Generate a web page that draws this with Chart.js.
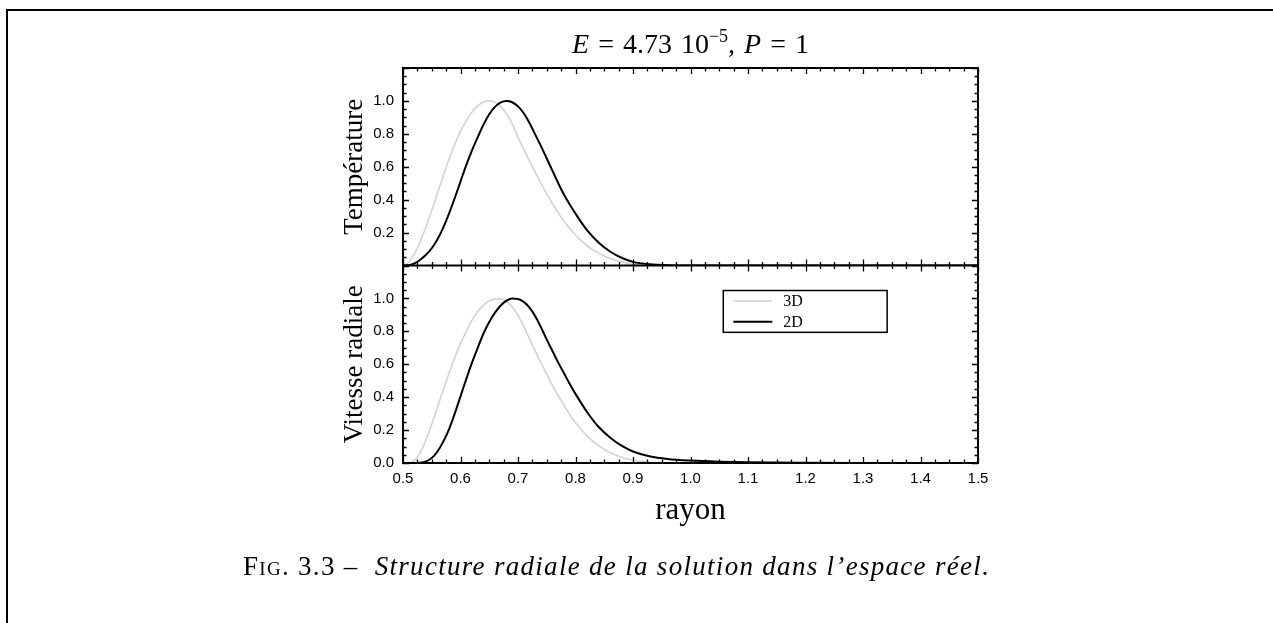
<!DOCTYPE html>
<html>
<head>
<meta charset="utf-8">
<script src="https://cdn.jsdelivr.net/npm/chart.js@4.4.1/dist/chart.umd.min.js"></script>
<style>
  html, body { margin: 0; padding: 0; background: #fff; }
  #page { position: relative; width: 1273px; height: 623px; overflow: hidden; }
  #frame { position: absolute; left: 6px; top: 9px; right: -10px; bottom: -10px;
           border-top: 2px solid #000; border-left: 2px solid #000; }
  #chart { position: absolute; left: 0; top: 0; }
  #title { position: absolute; left: 403px; width: 575px; top: 29px; text-align: center;
           font-family: "Liberation Serif", serif; font-size: 28px; line-height: 30px; word-spacing: 2px; }
  #title sup { font-size: 18px; line-height: 0; vertical-align: 11px; }
  #caption { position: absolute; left: 243px; top: 551px; white-space: nowrap; letter-spacing: 1.3px;
             font-family: "Liberation Serif", serif; font-size: 27px; line-height: 30px; }
  .sc { font-variant: small-caps; }
</style>
</head>
<body>
<div id="page">
  <div id="frame"></div>
  <canvas id="chart" width="1273" height="623"></canvas>
  <div id="title"><i>E</i> = 4.73 10<sup>−5</sup>, <i>P</i> = 1</div>
  <div id="caption"><span class="sc">Fig.</span> 3.3 –&nbsp; <i>Structure radiale de la solution dans l’espace réel.</i></div>
</div>
<script>
// rayon (abscisse commune)
const rayon = [0.50, 0.51, 0.52, 0.53, 0.54, 0.55, 0.56, 0.57, 0.58, 0.59,
               0.60, 0.61, 0.62, 0.63, 0.64, 0.65, 0.66, 0.67, 0.68, 0.69,
               0.70, 0.71, 0.72, 0.73, 0.74, 0.75, 0.76, 0.77, 0.78, 0.79, 0.80,
               0.82, 0.84, 0.86, 0.88, 0.90, 0.93, 0.96, 1.00, 1.05, 1.10, 1.20, 1.30, 1.50];

// Température
const temp3D = [0, 0.02, 0.07, 0.145, 0.235, 0.335, 0.44, 0.545, 0.645, 0.735,
                0.815, 0.88, 0.933, 0.97, 0.993, 1.0, 0.991, 0.965, 0.922, 0.86,
                0.78, 0.705, 0.635, 0.565, 0.50, 0.435, 0.375, 0.32, 0.27, 0.225, 0.185,
                0.12, 0.075, 0.043, 0.022, 0.009, 0.002, 0, 0, 0, 0, 0, 0, 0];
const temp2D = [0, 0.002, 0.013, 0.035, 0.065, 0.105, 0.16, 0.23, 0.315, 0.41,
                0.51, 0.61, 0.70, 0.78, 0.856, 0.919, 0.964, 0.991, 1.0, 0.992,
                0.967, 0.925, 0.866, 0.795, 0.725, 0.65, 0.575, 0.50, 0.43, 0.37, 0.315,
                0.215, 0.14, 0.085, 0.047, 0.022, 0.007, 0.002, 0, 0, 0, 0, 0, 0];

// Vitesse radiale
const vit3D = [0, 0, 0.015, 0.065, 0.14, 0.235, 0.34, 0.445, 0.545, 0.64,
               0.725, 0.80, 0.867, 0.92, 0.959, 0.985, 0.997, 0.997, 0.981, 0.948,
               0.898, 0.83, 0.755, 0.68, 0.61, 0.54, 0.47, 0.41, 0.35, 0.295, 0.245,
               0.165, 0.105, 0.063, 0.035, 0.017, 0.005, 0.001, 0, 0, 0, 0, 0, 0];
const vit2D = [0, 0, 0, 0.002, 0.01, 0.03, 0.07, 0.13, 0.205, 0.30,
               0.405, 0.51, 0.61, 0.70, 0.787, 0.857, 0.914, 0.957, 0.986, 0.999,
               0.997, 0.979, 0.944, 0.892, 0.824, 0.75, 0.68, 0.61, 0.545, 0.48, 0.42,
               0.31, 0.22, 0.155, 0.105, 0.07, 0.04, 0.025, 0.015, 0.008, 0.004, 0.001, 0, 0];

// graduations
const xTicks = [0.5, 0.6, 0.7, 0.8, 0.9, 1.0, 1.1, 1.2, 1.3, 1.4, 1.5];
const tempTicks = [0.2, 0.4, 0.6, 0.8, 1.0];
const vitTicks = [0.0, 0.2, 0.4, 0.6, 0.8, 1.0];

const serif = 'Liberation Serif';
const sans = 'Liberation Sans';
Chart.defaults.color = '#000';

function pts(ys) {
    return rayon.map((r, i) => ({ x: r, y: ys[i] }));
}

function line(label, ys, axis, color, width) {
    return {
        label: label,
        data: pts(ys),
        yAxisID: axis,
        borderColor: color,
        borderWidth: width,
        pointRadius: 0,
        fill: false,
        cubicInterpolationMode: 'monotone'
    };
}

// cadre, graduations internes et séparation des deux panneaux
const framePlugin = {
    id: 'frame',
    afterDatasetsDraw(chart) {
        const { ctx, chartArea: a, scales } = chart;
        const x = scales.x;
        ctx.save();
        ctx.strokeStyle = '#000';
        ctx.lineWidth = 1.3;
        ['yTemp', 'yVit'].forEach(id => {
            const s = scales[id];
            ctx.beginPath();
            for (let k = 0; k <= 40; k++) {
                const v = 0.5 + k * 0.025;
                const px = Math.round(x.getPixelForValue(v)) + 0.5;
                const len = k % 4 === 0 ? 6 : 3.5;
                ctx.moveTo(px, s.top); ctx.lineTo(px, s.top + len);
                ctx.moveTo(px, s.bottom); ctx.lineTo(px, s.bottom - len);
            }
            for (let k = 0; k <= 24; k++) {
                const py = Math.round(s.getPixelForValue(k * 0.05)) + 0.5;
                const len = k % 4 === 0 ? 6 : 3.5;
                ctx.moveTo(a.left, py); ctx.lineTo(a.left + len, py);
                ctx.moveTo(a.right, py); ctx.lineTo(a.right - len, py);
            }
            ctx.stroke();
        });
        ctx.lineWidth = 2;
        ctx.strokeRect(a.left, a.top, a.right - a.left, a.bottom - a.top);
        ctx.beginPath();
        ctx.moveTo(a.left, scales.yTemp.bottom);
        ctx.lineTo(a.right, scales.yTemp.bottom);
        ctx.stroke();
        ctx.restore();
    }
};

// légende dans le panneau du bas
const legendPlugin = {
    id: 'boxLegend',
    afterDraw(chart) {
        const { ctx, scales } = chart;
        const x = scales.x, y = scales.yVit;
        const left = x.getPixelForValue(1.057), right = x.getPixelForValue(1.342);
        const top = y.getPixelForValue(1.048), bottom = y.getPixelForValue(0.794);
        const items = chart.data.datasets.filter(d => d.yAxisID === 'yVit').reverse();
        ctx.save();
        ctx.fillStyle = '#fff';
        ctx.fillRect(left, top, right - left, bottom - top);
        ctx.strokeStyle = '#000';
        ctx.lineWidth = 1.5;
        ctx.strokeRect(left, top, right - left, bottom - top);
        ctx.font = '16px "' + serif + '"';
        ctx.textBaseline = 'middle';
        const rowH = (bottom - top) / items.length;
        items.forEach((d, i) => {
            const cy = top + rowH * (i + 0.5);
            ctx.strokeStyle = d.borderColor;
            ctx.lineWidth = d.borderWidth;
            ctx.beginPath();
            ctx.moveTo(left + 10, cy);
            ctx.lineTo(left + 49, cy);
            ctx.stroke();
            ctx.fillStyle = '#000';
            ctx.fillText(d.label, left + 60, cy + 1);
        });
        ctx.restore();
    }
};

function yScale(title, ticks, weight) {
    return {
        type: 'linear',
        position: 'left',
        stack: 'panneaux',
        stackWeight: 1,
        weight: weight,
        min: 0,
        max: 1.2,
        afterBuildTicks: s => { s.ticks = ticks.map(v => ({ value: v })); },
        afterFit: s => { s.width = 68; },
        grid: { display: false, drawTicks: false },
        border: { display: false },
        ticks: {
            padding: 9,
            font: { family: sans, size: 15 },
            callback: v => v.toFixed(1)
        },
        title: {
            display: true,
            text: title,
            font: { family: serif, size: 27 },
            padding: { top: 4, bottom: 0 }
        }
    };
}

new Chart(document.getElementById('chart'), {
    type: 'line',
    data: {
        datasets: [
            line('2D', temp2D, 'yTemp', '#000', 2),
            line('3D', temp3D, 'yTemp', '#d2d2d2', 1.6),
            line('2D', vit2D, 'yVit', '#000', 2),
            line('3D', vit3D, 'yVit', '#d2d2d2', 1.6)
        ]
    },
    options: {
        responsive: false,
        animation: false,
        layout: { padding: { left: 335, right: 295, top: 68, bottom: 90 } },
        plugins: { legend: { display: false }, tooltip: { enabled: false } },
        scales: {
            x: {
                type: 'linear',
                min: 0.5,
                max: 1.5,
                afterBuildTicks: s => { s.ticks = xTicks.map(v => ({ value: v })); },
                afterFit: s => { s.height = 70; },
                grid: { display: false, drawTicks: false },
                border: { display: false },
                ticks: {
                    padding: 7,
                    maxRotation: 0,
                    autoSkip: false,
                    font: { family: sans, size: 15 },
                    callback: v => v.toFixed(1)
                },
                title: {
                    display: true,
                    text: 'rayon',
                    font: { family: serif, size: 31 },
                    padding: { top: 0, bottom: 4 }
                }
            },
            yTemp: yScale('Température', tempTicks, 2),
            yVit: yScale('Vitesse radiale', vitTicks, 1)
        }
    },
    plugins: [framePlugin, legendPlugin]
});
</script>
</body>
</html>
